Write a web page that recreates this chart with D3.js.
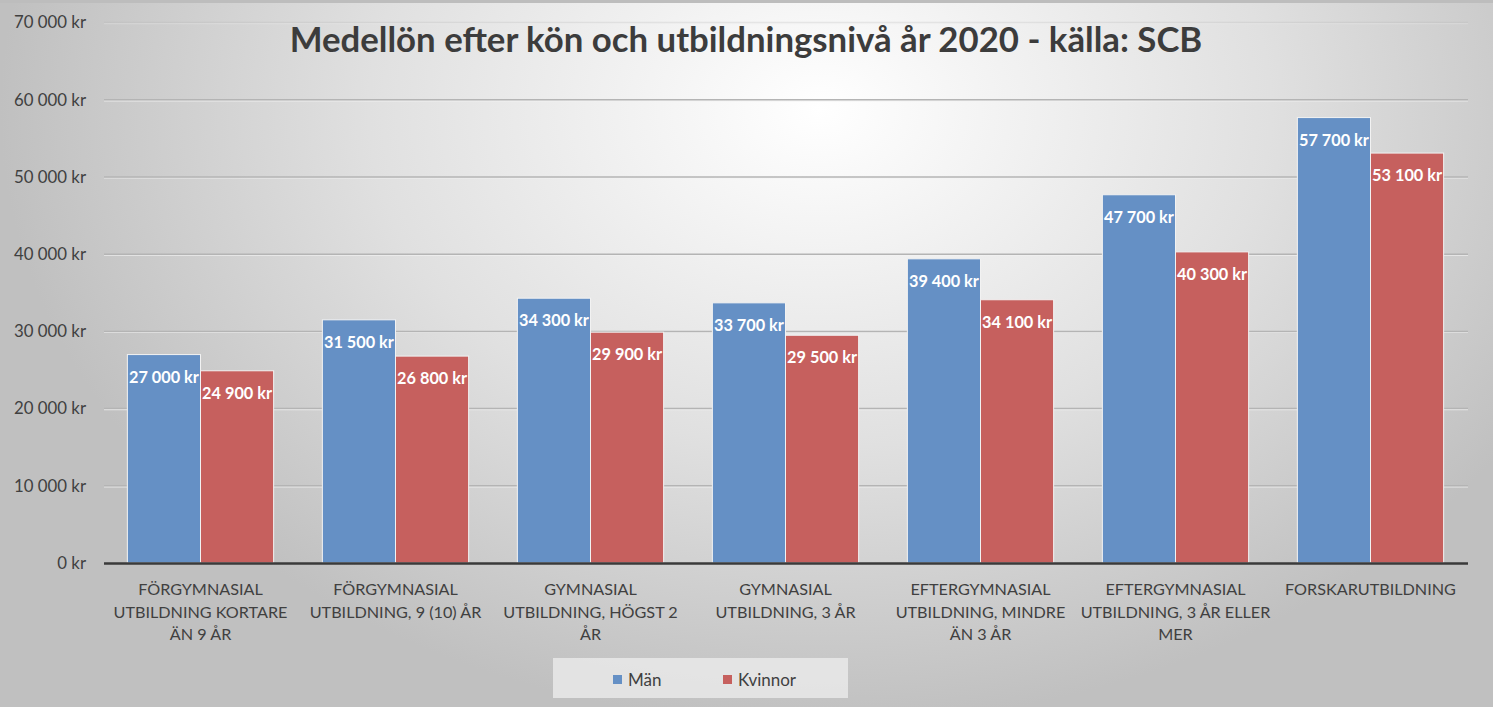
<!DOCTYPE html>
<html><head><meta charset="utf-8">
<script src="https://cdn.jsdelivr.net/npm/d3@7"></script>
<style>html,body{margin:0;padding:0;overflow:hidden;background:#ddd}</style>
</head><body>
<svg id="c" width="1493" height="707"></svg>
<script>
const categories = [
  "FÖRGYMNASIAL UTBILDNING KORTARE ÄN 9 ÅR",
  "FÖRGYMNASIAL UTBILDNING, 9 (10) ÅR",
  "GYMNASIAL UTBILDNING, HÖGST 2 ÅR",
  "GYMNASIAL UTBILDNING, 3 ÅR",
  "EFTERGYMNASIAL UTBILDNING, MINDRE ÄN 3 ÅR",
  "EFTERGYMNASIAL UTBILDNING, 3 ÅR ELLER MER",
  "FORSKARUTBILDNING"
];
const categoryLines = [
  ["FÖRGYMNASIAL","UTBILDNING KORTARE","ÄN 9 ÅR"],
  ["FÖRGYMNASIAL","UTBILDNING, 9 (10) ÅR"],
  ["GYMNASIAL","UTBILDNING, HÖGST 2","ÅR"],
  ["GYMNASIAL","UTBILDNING, 3 ÅR"],
  ["EFTERGYMNASIAL","UTBILDNING, MINDRE","ÄN 3 ÅR"],
  ["EFTERGYMNASIAL","UTBILDNING, 3 ÅR ELLER","MER"],
  ["FORSKARUTBILDNING"]
];
const seriesNames = ["Män","Kvinnor"];
const man = [27000, 31500, 34300, 33700, 39400, 47700, 57700];
const kvinnor = [24900, 26800, 29900, 29500, 34100, 40300, 53100];
const yTicks = [0,10000,20000,30000,40000,50000,60000,70000];
const title = "Medellön efter kön och utbildningsnivå år 2020 - källa: SCB";

const W=1493,H=707;
const colors = ["#6590c5","#c6605e"];
const font = "Lato, 'Open Sans', sans-serif";
const fmt = v => d3.format(",")(v).replace(/,/g," ") + " kr";

const svg = d3.select("#c");
const defs = svg.append("defs");
const rg = defs.append("radialGradient").attr("id","bg")
  .attr("gradientUnits","userSpaceOnUse")
  .attr("cx",820).attr("cy",110).attr("r",820)
  .attr("gradientTransform","translate(820,110) scale(1,0.75) translate(-820,-110)");
rg.append("stop").attr("offset","0%").attr("stop-color","#ffffff");
rg.append("stop").attr("offset","55%").attr("stop-color","#e0e0e0");
rg.append("stop").attr("offset","100%").attr("stop-color","#c0c0c0");
svg.append("rect").attr("width",W).attr("height",H).attr("fill","url(#bg)");
svg.append("rect").attr("width",W).attr("height",3).attr("fill","#bdbdbd");

const x0 = d3.scaleBand().domain(categories).range([103,1468]).paddingInner(0.25).paddingOuter(0.125);
const x1 = d3.scaleBand().domain(seriesNames).range([0,x0.bandwidth()]);
const y = d3.scaleLinear().domain([0,70000]).range([563,22.6]);

// gridlines
const grid = svg.append("g");
yTicks.filter(t=>t>0).forEach(t=>{
  grid.append("line").attr("x1",104).attr("x2",1468).attr("y1",y(t)+1).attr("y2",y(t)+1)
    .attr("stroke","#f4f4f4").attr("stroke-width",1.2).attr("opacity",t===70000?0.3:0.8);
  grid.append("line").attr("x1",104).attr("x2",1468).attr("y1",y(t)).attr("y2",y(t))
    .attr("stroke","#b4b4b4").attr("stroke-width",1.5).attr("opacity",t===70000?0.25:1);
});

// y axis labels
const yAxis = d3.axisLeft(y).tickValues(yTicks).tickFormat(fmt).tickSize(0).tickPadding(0);
const ya = svg.append("g").attr("transform","translate(86,0)").call(yAxis);
ya.select(".domain").remove();
ya.selectAll("text").attr("font-family",font).attr("font-size",16.8).attr("fill","#404040");

// bars
const data = categories.map((c,i)=>({c, vals:[{s:"Män",v:man[i]},{s:"Kvinnor",v:kvinnor[i]}]}));
const gC = svg.append("g").selectAll("g").data(data).join("g")
  .attr("transform",d=>`translate(${x0(d.c)},0)`);
gC.selectAll("rect").data(d=>d.vals).join("rect")
  .attr("x",d=>x1(d.s)).attr("width",x1.bandwidth())
  .attr("y",d=>y(d.v)).attr("height",d=>y(0)-y(d.v))
  .attr("fill",(d,i)=>colors[i]).attr("stroke","#f2f2f2").attr("stroke-width",1);
gC.selectAll("text").data(d=>d.vals).join("text")
  .attr("x",d=>x1(d.s)+x1.bandwidth()/2).attr("y",d=>y(d.v)+28)
  .attr("text-anchor","middle").attr("font-family",font).attr("font-weight","bold")
  .attr("font-size",16.3).attr("fill","#ffffff").text(d=>fmt(d.v));

// x axis line
svg.append("line").attr("x1",104).attr("x2",1468).attr("y1",y(0)+0.5).attr("y2",y(0)+0.5)
  .attr("stroke","#3a3a3a").attr("stroke-width",2.5);

// x labels
const xa = svg.append("g");
categories.forEach((c,i)=>{
  const t = xa.append("text").attr("text-anchor","middle").attr("font-family",font)
    .attr("font-size",16.2).attr("fill","#404040");
  categoryLines[i].forEach((ln,j)=>{
    t.append("tspan").attr("x",x0(c)+x0.bandwidth()/2).attr("y",595+j*22.5).text(ln);
  });
});

// title
const tt = svg.append("text").attr("x",746).attr("y",52).attr("text-anchor","middle")
  .attr("font-family",font).attr("font-weight","bold").attr("font-size",32).attr("fill","#3c3c3c").text(title);
const tw = tt.node().getComputedTextLength();
tt.attr("font-size",32*913/tw);

// legend
const lg = svg.append("g");
lg.append("rect").attr("x",553).attr("y",658).attr("width",295).attr("height",40).attr("fill","#ebebeb").attr("opacity",0.8);
const legX = [613,723];
seriesNames.forEach((s,i)=>{
  lg.append("rect").attr("x",legX[i]).attr("y",675).attr("width",9).attr("height",9).attr("fill",colors[i]);
  lg.append("text").attr("x",legX[i]+15).attr("y",685.5).attr("font-family",font).attr("font-size",17)
    .attr("fill","#404040").text(s);
});
</script>
</body></html>
